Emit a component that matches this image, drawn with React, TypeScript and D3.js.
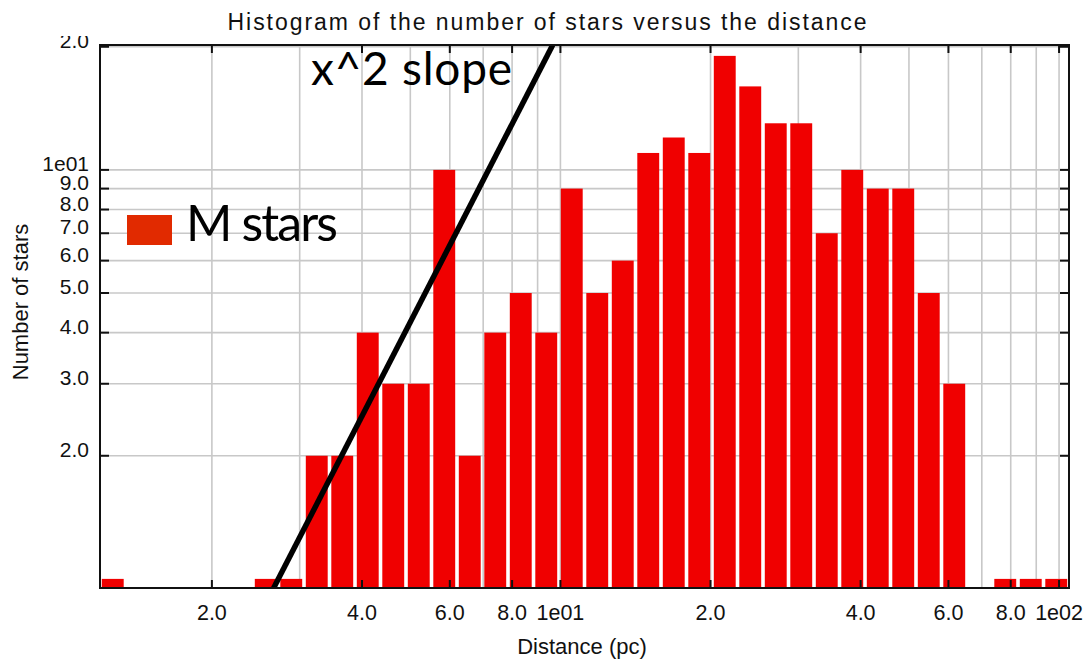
import React from 'react';
import * as d3 from 'd3';

// histogram counts, 38 bins equally spaced in log(distance)
const binCounts = [
  1, 0, 0, 0, 0, 0, 1, 1, 2, 2,
  4, 3, 3, 10, 2, 4, 5, 4, 9, 5,
  6, 11, 12, 11, 19, 16, 13, 13, 7, 10,
  9, 9, 5, 3, 0, 1, 1, 1,
];
const distMin = 1.193;
const distMax = 104.7;

const xTicks = [2, 4, 6, 8, 10, 20, 40, 60, 80, 100];
const xTickLabels = ['2.0', '4.0', '6.0', '8.0', '1e01', '2.0', '4.0', '6.0', '8.0', '1e02'];
const xGrid = [2, 3, 4, 5, 6, 7, 8, 9, 10, 20, 30, 40, 50, 60, 70, 80, 90, 100];

const yTicks = [2, 3, 4, 5, 6, 7, 8, 9, 10, 20];
const yTickLabels = ['2.0', '3.0', '4.0', '5.0', '6.0', '7.0', '8.0', '9.0', '1e01', '2.0'];

// reference slope line (x^2)
const slopeX = [2.66, 9.65];
const slopeY = [0.95, 20.2];

const W = 1090;
const H = 659;
const margin = { top: 45, right: 21, bottom: 71, left: 100 };

const App: React.FC = () => {
  const x0 = margin.left;
  const x1 = W - margin.right;
  const y0 = H - margin.bottom;
  const y1 = margin.top;

  const xScale = d3.scaleLog().domain([distMin, distMax]).range([x0, x1]);
  const yScale = d3.scaleLog().domain([0.95, 20.2]).range([y0, y1]);

  const lMin = Math.log10(distMin);
  const step = (Math.log10(distMax) - lMin) / binCounts.length;
  const bins = binCounts.map((c, i) => ({
    lo: Math.pow(10, lMin + i * step),
    hi: Math.pow(10, lMin + (i + 1) * step),
    count: c,
  }));

  const line = d3.line<number>()
    .x((_, i) => xScale(slopeX[i]))
    .y((_, i) => yScale(slopeY[i]));

  const gridColor = '#c8c8c8';
  const tickFont = '"Liberation Sans", Arial, sans-serif';

  return (
    <svg width={W} height={H} style={{ position: 'absolute', left: 0, top: 0, background: '#fff' }}
      fontFamily={tickFont}>
      <defs>
        <clipPath id="plot-clip">
          <rect x={x0} y={y1} width={x1 - x0} height={y0 - y1} />
        </clipPath>
        <clipPath id="ylab-clip">
          <rect x={0} y={36} width={x0} height={H} />
        </clipPath>
      </defs>

      {/* grid */}
      {xGrid.map(d => (
        <line key={'gx' + d} x1={xScale(d)} x2={xScale(d)} y1={y1} y2={y0}
          stroke={gridColor} strokeWidth={1.6} />
      ))}
      {yTicks.map(d => (
        <line key={'gy' + d} x1={x0} x2={x1} y1={yScale(d)} y2={yScale(d)}
          stroke={gridColor} strokeWidth={1.6} />
      ))}

      {/* bars */}
      <g clipPath="url(#plot-clip)">
        {bins.filter(b => b.count > 0).map((b, i) => (
          <rect key={i} x={xScale(b.lo) + 1.8} width={xScale(b.hi) - xScale(b.lo) - 3.6}
            y={yScale(b.count)} height={y0 - yScale(b.count)} fill="#f00000" />
        ))}
        <path d={line(slopeX) || ''} fill="none" stroke="#000" strokeWidth={5.5} />
      </g>

      {/* frame */}
      <rect x={x0} y={y1} width={x1 - x0} height={y0 - y1} fill="none" stroke="#111" strokeWidth={2} />

      {/* ticks */}
      {xTicks.map(d => (
        <g key={'tx' + d}>
          <line x1={xScale(d)} x2={xScale(d)} y1={y0} y2={y0 - 8} stroke="#111" strokeWidth={2} />
          <line x1={xScale(d)} x2={xScale(d)} y1={y1} y2={y1 + 8} stroke="#111" strokeWidth={2} />
        </g>
      ))}
      {yTicks.map(d => (
        <g key={'ty' + d}>
          <line x1={x0} x2={x0 + 9} y1={yScale(d)} y2={yScale(d)} stroke="#111" strokeWidth={2} />
          <line x1={x1} x2={x1 - 9} y1={yScale(d)} y2={yScale(d)} stroke="#111" strokeWidth={2} />
        </g>
      ))}

      {/* tick labels */}
      {xTicks.map((d, i) => (
        <text key={'lx' + d} x={xScale(d)} y={620} textAnchor="middle" fontSize={21.5}
          fill="#111">{xTickLabels[i]}</text>
      ))}
      <g clipPath="url(#ylab-clip)">
        {yTicks.map((d, i) => (
          <text key={'ly' + d} x={89} y={yScale(d) + 1} textAnchor="end" fontSize={21}
            fill="#111">{yTickLabels[i]}</text>
        ))}
      </g>

      {/* titles */}
      <text x={547} y={30} textAnchor="middle" fontSize={23} textLength={639}
        lengthAdjust="spacing" fill="#111">Histogram of the number of stars versus the distance</text>
      <text x={582} y={654} textAnchor="middle" fontSize={22} fill="#111">Distance (pc)</text>
      <text transform={`translate(28,302) rotate(-90)`} textAnchor="middle" fontSize={22}
        fill="#111">Number of stars</text>

      {/* annotations */}
      <text x={311} y={85} fontFamily="Lato, 'Open Sans', sans-serif" fontSize={46}
        textLength={201} lengthAdjust="spacing" fill="#000">x^2 slope</text>
      <rect x={127} y={215} width={45} height={30} fill="#e12a00" />
      <text x={186} y={241} fontFamily="Lato, 'Open Sans', sans-serif" fontSize={50}
        textLength={152} lengthAdjust="spacing" fill="#000">M stars</text>
    </svg>
  );
};

export default App;
